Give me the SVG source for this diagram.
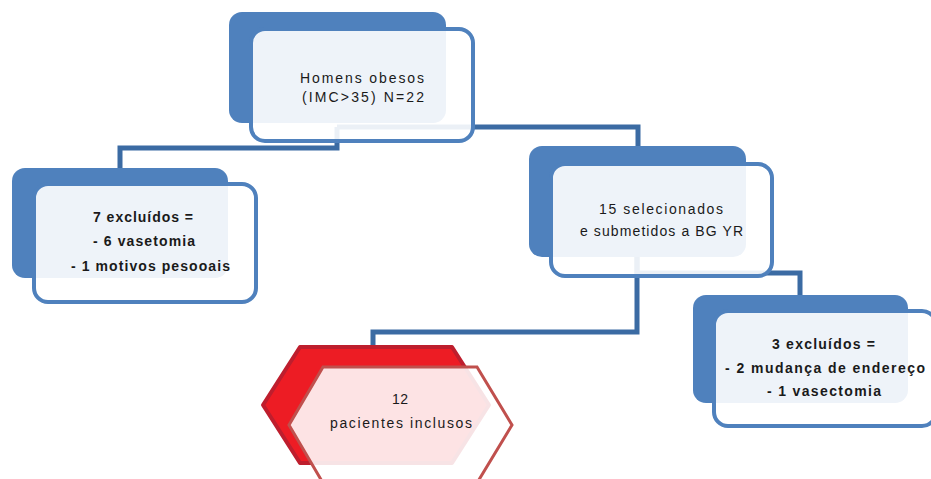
<svg xmlns="http://www.w3.org/2000/svg" width="931" height="479" viewBox="0 0 931 479">
<style>
.bg{fill:#4F81BD}
.fr{fill:#fff;fill-opacity:0.9;stroke:#4F81BD;stroke-width:4}
.conn{fill:none;stroke:#3B6BA3;stroke-width:5}
.t{font-family:"Liberation Sans",Arial,sans-serif;font-size:14px;fill:#1a1a1a}
.b{font-weight:bold}
</style>
<rect width="931" height="479" fill="#fff"/>
<g id="connectors">
<path class="conn" d="M337,127 H638 V148"/>
<path class="conn" d="M337,127 V148 H120 V168"/>
<path class="conn" d="M637,257 V332 H373 V348"/>
<path class="conn" d="M637,257 V273 H800 V295"/>
</g>
<g id="n-top">
<rect class="bg" x="229" y="12" width="217" height="111" rx="13"/>
<rect class="fr" x="251" y="29" width="222" height="112" rx="14"/>
<text class="t" x="300" y="83" textLength="124" lengthAdjust="spacing">Homens obesos</text>
<text class="t" x="302" y="102" textLength="122" lengthAdjust="spacing">(IMC&gt;35)  N=22</text>
</g>
<g id="n-excl1">
<rect class="bg" x="12" y="168" width="216" height="110" rx="13"/>
<rect class="fr" x="34" y="184" width="222" height="118" rx="14"/>
<text class="t b" x="93" y="222" textLength="100" lengthAdjust="spacing">7 excluídos =</text>
<text class="t b" x="93" y="246" textLength="102" lengthAdjust="spacing">- 6 vasetomia</text>
<text class="t b" x="71" y="271" textLength="159" lengthAdjust="spacing">- 1 motivos pesooais</text>
</g>
<g id="n-sel">
<rect class="bg" x="529" y="146" width="217" height="111" rx="13"/>
<rect class="fr" x="551" y="164" width="221" height="112" rx="14"/>
<text class="t" x="599" y="214" textLength="124" lengthAdjust="spacing">15 selecionados</text>
<text class="t" x="580" y="236" textLength="163" lengthAdjust="spacing">e submetidos a BG YR</text>
</g>
<g id="n-incl">
<polygon points="300,347 452,347 489,405 452,463 300,463 263,405" fill="#ED1C24" stroke="#BE1E2D" stroke-width="4" stroke-linejoin="round"/>
<polygon points="323,367 477,367 512,425 477,483 323,483 289,425" fill="#fff" fill-opacity="0.88" stroke="#C0504D" stroke-width="3"/>
<text class="t" x="392" y="404" textLength="16" lengthAdjust="spacing">12</text>
<text class="t" x="330" y="428" textLength="142" lengthAdjust="spacing">pacientes inclusos</text>
</g>
<g id="n-excl2">
<rect class="bg" x="693" y="295" width="215" height="108" rx="13"/>
<rect class="fr" x="714" y="311" width="222" height="115" rx="14"/>
<text class="t b" x="772" y="349" textLength="103" lengthAdjust="spacing">3 excluídos =</text>
<text class="t b" x="725" y="373" textLength="200" lengthAdjust="spacing">- 2 mudança de endereço</text>
<text class="t b" x="767" y="396" textLength="114" lengthAdjust="spacing">- 1 vasectomia</text>
</g>
</svg>
